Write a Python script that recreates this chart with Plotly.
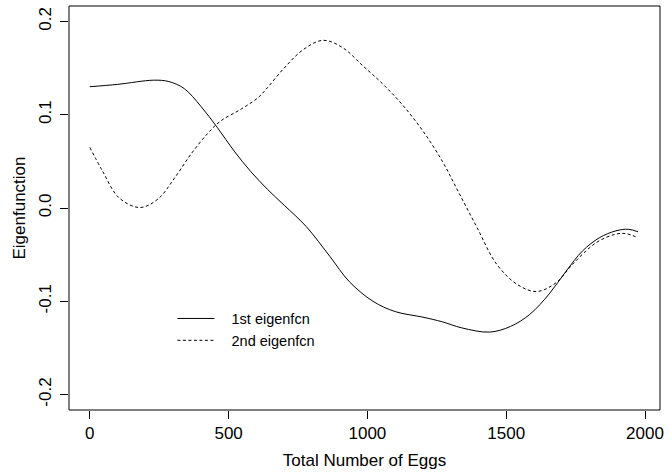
import plotly.graph_objects as go

# Data
x_first = [0, 100, 230, 285, 340, 400, 460, 520, 580, 640, 700, 780, 865, 935, 1020,
           1100, 1200, 1270, 1340, 1440, 1515, 1585, 1655, 1715, 1775, 1835, 1895, 1940, 1975]
y_first = [0.130, 0.1325, 0.137, 0.1355, 0.128, 0.109, 0.086, 0.061, 0.039, 0.020, 0.003,
           -0.020, -0.052, -0.079, -0.100, -0.111, -0.117, -0.122, -0.1285, -0.133, -0.127,
           -0.114, -0.092, -0.068, -0.046, -0.032, -0.0245, -0.0228, -0.0255]

x_second = [0, 45, 105, 180, 245, 305, 365, 425, 470, 545, 605, 640, 700, 770, 840, 910,
            985, 1055, 1125, 1200, 1270, 1330, 1395, 1465, 1540, 1610, 1680, 1740, 1825,
            1895, 1932, 1975]
y_second = [0.065, 0.040, 0.011, 0.0005, 0.0095, 0.032, 0.058, 0.080, 0.093, 0.106, 0.118,
            0.129, 0.150, 0.170, 0.1797, 0.172, 0.152, 0.133, 0.111, 0.0825, 0.050, 0.016,
            -0.021, -0.060, -0.082, -0.0895, -0.080, -0.060, -0.037, -0.028, -0.0275, -0.032]

x_ticks = [0, 500, 1000, 1500, 2000]
y_ticks = [-0.2, -0.1, 0.0, 0.1, 0.2]
y_tick_labels = ["-0.2", "-0.1", "0.0", "0.1", "0.2"]

names = ["1st eigenfcn", "2nd eigenfcn"]

FONT = "Liberation Sans, Arial, Helvetica, sans-serif"

fig = go.Figure()
fig.add_trace(go.Scatter(x=x_first, y=y_first, mode="lines", name="   " + names[0],
                         line=dict(color="black", width=1, shape="spline", smoothing=1.0)))
fig.add_trace(go.Scatter(x=x_second, y=y_second, mode="lines", name="   " + names[1],
                         line=dict(color="black", width=1, dash="3px,2.5px",
                                   shape="spline", smoothing=1.0)))

fig.add_shape(type="rect", xref="paper", yref="paper", x0=0, x1=1, y0=0, y1=1,
              line=dict(color="black", width=1), layer="above")

fig.update_layout(
    width=670, height=476,
    margin=dict(l=69, r=6, t=6, b=66),
    paper_bgcolor="white", plot_bgcolor="white",
    showlegend=True,
    legend=dict(x=0.175, y=0.266, xanchor="left", yanchor="top",
                bgcolor="rgba(0,0,0,0)", font=dict(family=FONT, size=14.5, color="black"),
                itemwidth=37, tracegroupgap=0),
    xaxis=dict(range=[-75, 2054], tickvals=x_ticks, ticks="outside", ticklen=8,
               tickcolor="black", tickwidth=1, showgrid=False, zeroline=False,
               showline=False, tickfont=dict(family=FONT, size=17, color="black"),
               title=dict(text="Total Number of Eggs", standoff=11,
                          font=dict(family=FONT, size=17, color="black"))),
    yaxis=dict(range=[-0.2165, 0.2165], tickvals=y_ticks, ticktext=y_tick_labels,
               tickangle=-90, ticks="outside", ticklen=8, tickcolor="black", tickwidth=1,
               ticklabelstandoff=2,
               showgrid=False, zeroline=False, showline=False,
               tickfont=dict(family=FONT, size=17, color="black"),
               title=dict(text="Eigenfunction", standoff=6,
                          font=dict(family=FONT, size=17, color="black"))),
)

fig.write_html("out.html")
